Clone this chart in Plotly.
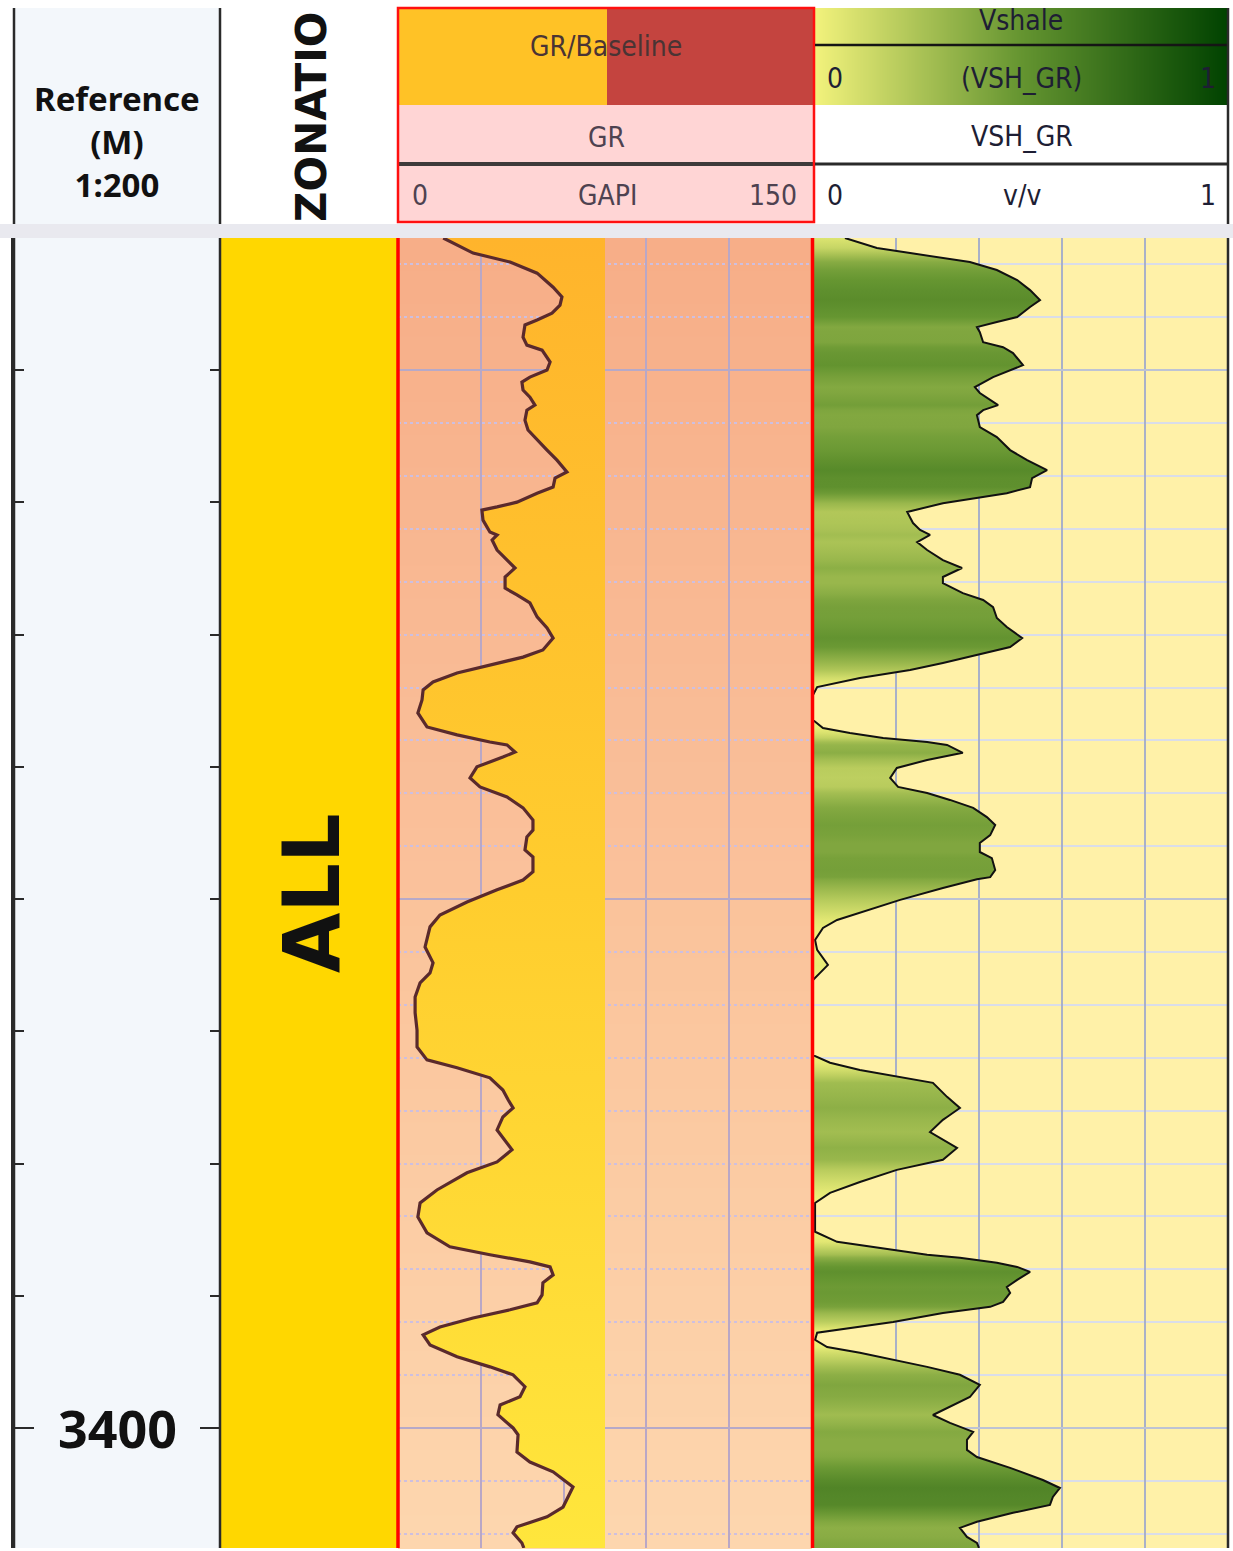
import numpy as np
import plotly.graph_objects as go

W, H = 1233, 1551

# ---------------------------------------------------------------- data
DEPTH_TOP = 3355.0
DEPTH_BASE = 3404.54
DEPTH_MINOR_STEP = 5
DEPTH_MAJOR_STEP = 50
DEPTH_LABELS = [3400]

GR_RANGE = [0, 150]
GR_BASELINE = 75
GR_DEPTH = [
    3355.00, 3355.57, 3355.91, 3356.33, 3356.86, 3357.23, 3357.54, 3357.84, 3358.10, 3358.29,
    3358.75, 3359.05, 3359.24, 3359.69, 3359.99, 3360.26, 3360.45, 3360.75, 3361.02, 3361.32,
    3361.51, 3361.89, 3362.26, 3362.64, 3363.02, 3363.40, 3363.85, 3364.08, 3364.42, 3364.65,
    3364.99, 3365.17, 3365.29, 3365.67, 3366.12, 3366.23, 3366.42, 3366.80, 3367.18, 3367.48,
    3367.82, 3368.24, 3368.50, 3368.80, 3369.33, 3369.75, 3370.13, 3370.58, 3370.85, 3371.15,
    3371.45, 3371.79, 3372.09, 3372.47, 3372.96, 3373.49, 3373.79, 3374.06, 3374.17, 3374.44,
    3374.63, 3375.00, 3375.42, 3375.76, 3376.14, 3376.55, 3377.01, 3377.39, 3377.65, 3378.14,
    3378.41, 3378.97, 3379.28, 3379.65, 3380.11, 3380.60, 3381.05, 3381.81, 3382.41, 3382.79,
    3383.17, 3383.70, 3384.30, 3384.95, 3385.59, 3386.08, 3386.38, 3386.76, 3387.22, 3387.59,
    3387.90, 3388.24, 3388.73, 3389.48, 3389.94, 3390.35, 3391.00, 3391.49, 3392.02, 3392.62,
    3393.15, 3393.45, 3393.72, 3393.91, 3394.21, 3394.51, 3394.97, 3395.27, 3395.53, 3395.84,
    3396.18, 3396.48, 3396.86, 3397.31, 3397.69, 3397.99, 3398.44, 3398.82, 3399.13, 3399.50,
    3400.00, 3400.26, 3400.91, 3401.29, 3401.66, 3402.23, 3402.46, 3402.99, 3403.36, 3403.74,
    3403.97, 3404.35, 3404.54,
]
GR_VALUES = [
    16.4, 27.2, 40.6, 50.4, 56.2, 59.4, 58.7, 55.8, 50.4, 46.0,
    45.3, 46.7, 52.2, 55.1, 54.0, 47.8, 44.9, 45.3, 47.8, 49.6,
    46.7, 46.0, 47.1, 50.4, 54.0, 57.6, 61.2, 56.9, 56.2, 50.4,
    43.1, 35.9, 30.4, 30.8, 33.3, 35.9, 34.1, 35.9, 39.5, 42.4,
    38.8, 38.8, 43.1, 47.8, 50.4, 54.0, 56.2, 52.5, 45.3, 33.3,
    21.4, 12.7, 9.1, 8.7, 7.2, 10.5, 21.4, 33.3, 39.5, 42.4,
    38.0, 28.6, 26.1, 29.7, 39.5, 45.3, 48.9, 48.9, 46.7, 46.0,
    48.9, 48.9, 45.3, 35.9, 25.0, 15.2, 11.6, 9.8, 12.7, 11.6,
    8.0, 6.2, 6.2, 6.9, 6.9, 10.5, 21.4, 33.3, 38.0, 39.9,
    41.7, 38.0, 35.9, 41.3, 35.9, 25.0, 14.1, 8.0, 7.2, 10.5,
    18.8, 33.3, 47.8, 55.1, 56.2, 52.5, 52.2, 50.4, 40.6, 27.2,
    15.2, 9.1, 11.6, 21.4, 33.3, 41.7, 46.0, 44.2, 37.0, 36.2,
    41.7, 43.5, 43.1, 47.8, 56.2, 63.4, 62.3, 59.8, 54.0, 43.1,
    41.7, 44.9, 45.6,
]

VSH_RANGE = [0, 1]
VSH_DEPTH = [
    3355.00, 3355.38, 3355.57, 3355.76, 3355.91, 3356.21, 3356.59, 3356.97, 3357.35, 3357.61,
    3357.99, 3358.18, 3358.37, 3358.56, 3358.94, 3359.13, 3359.35, 3359.81, 3360.00, 3360.26,
    3360.64, 3360.86, 3361.32, 3361.51, 3361.70, 3362.15, 3362.53, 3363.02, 3363.40, 3363.78,
    3364.08, 3364.42, 3364.65, 3364.84, 3365.03, 3365.36, 3365.78, 3366.04, 3366.23, 3366.50,
    3366.80, 3367.18, 3367.48, 3367.82, 3368.05, 3368.43, 3368.69, 3368.96, 3369.37, 3369.71,
    3370.13, 3370.47, 3370.77, 3371.07, 3371.34, 3371.64, 3371.98, 3372.28, 3373.23, 3373.53,
    3373.72, 3373.91, 3374.06, 3374.17, 3374.47, 3374.74, 3375.04, 3375.42, 3375.76, 3375.99,
    3376.25, 3376.55, 3376.90, 3377.20, 3377.58, 3377.88, 3378.22, 3378.45, 3378.90, 3379.17,
    3379.25, 3379.58, 3380.03, 3380.52, 3380.79, 3381.09, 3381.55, 3381.92, 3382.49, 3382.79,
    3383.06, 3385.90, 3386.19, 3386.46, 3386.72, 3386.95, 3387.48, 3387.90, 3388.24, 3388.35,
    3388.81, 3389.11, 3389.41, 3389.86, 3390.24, 3390.70, 3391.11, 3391.49, 3392.58, 3392.96,
    3393.26, 3393.45, 3393.56, 3393.75, 3393.91, 3394.10, 3394.40, 3394.67, 3394.89, 3395.23,
    3395.42, 3395.65, 3395.99, 3396.21, 3396.40, 3396.67, 3396.94, 3397.16, 3397.43, 3397.69,
    3397.99, 3398.37, 3398.83, 3399.21, 3399.51, 3399.81, 3400.15, 3400.45, 3400.83, 3401.10,
    3401.51, 3401.97, 3402.27, 3402.61, 3402.91, 3403.21, 3403.55, 3403.78, 3404.12, 3404.35,
    3404.54,
]
VSH_VALUES = [
    0.077, 0.154, 0.234, 0.313, 0.378, 0.443, 0.492, 0.523, 0.547, 0.523,
    0.492, 0.443, 0.395, 0.402, 0.410, 0.458, 0.482, 0.506, 0.475, 0.434,
    0.390, 0.402, 0.446, 0.410, 0.395, 0.402, 0.443, 0.475, 0.516, 0.564,
    0.528, 0.523, 0.467, 0.395, 0.313, 0.227, 0.241, 0.258, 0.282, 0.251,
    0.275, 0.313, 0.359, 0.313, 0.313, 0.361, 0.410, 0.434, 0.443, 0.467,
    0.504, 0.475, 0.395, 0.313, 0.234, 0.113, 0.010, 0.000, 0.000, 0.024,
    0.089, 0.169, 0.275, 0.323, 0.361, 0.275, 0.202, 0.186, 0.205, 0.275,
    0.330, 0.386, 0.419, 0.439, 0.427, 0.402, 0.402, 0.431, 0.439, 0.427,
    0.395, 0.313, 0.210, 0.113, 0.058, 0.024, 0.005, 0.010, 0.036, 0.017,
    0.000, 0.000, 0.041, 0.113, 0.202, 0.289, 0.323, 0.354, 0.323, 0.313,
    0.282, 0.313, 0.347, 0.313, 0.202, 0.113, 0.041, 0.005, 0.005, 0.058,
    0.193, 0.275, 0.354, 0.443, 0.492, 0.523, 0.492, 0.467, 0.475, 0.458,
    0.427, 0.313, 0.193, 0.089, 0.010, 0.005, 0.034, 0.113, 0.193, 0.275,
    0.354, 0.402, 0.378, 0.330, 0.289, 0.330, 0.386, 0.371, 0.371, 0.395,
    0.475, 0.554, 0.595, 0.578, 0.571, 0.482, 0.395, 0.354, 0.371, 0.395,
    0.400,
]

ZONE_NAMES = ["ALL"]
ZONE_TOPS = [DEPTH_TOP]
ZONE_BASES = [DEPTH_BASE]

# ---------------------------------------------------------------- layout geometry (pixels)
HEAD_TOP, HEAD_BOT = 8, 222
BAND_TOP, BAND_BOT = 224, 238
BODY_TOP, BODY_BOT = 238, 1548
X_DEPTH = (14, 220)
X_ZONE = (220, 398)
X_GR = (398, 812)
X_VSH = (813, 1228)


def px(x):
    return x / W


def py(y):
    return 1 - y / H


# Vshale colour ramp: clean (yellow) -> shaly (dark green)
VSH_RAMP = [(0.0, (242, 242, 124)), (0.5, (100, 148, 48)), (1.0, (0, 66, 0))]


def ramp_color(v, ramp=VSH_RAMP):
    v = min(max(v, 0.0), 1.0)
    for (p0, c0), (p1, c1) in zip(ramp[:-1], ramp[1:]):
        if v <= p1:
            t = (v - p0) / (p1 - p0)
            return "rgb(%d,%d,%d)" % tuple(round(a + (b - a) * t) for a, b in zip(c0, c1))
    return "rgb(%d,%d,%d)" % ramp[-1][1]


def mix(c0, c1, t):
    return "rgb(%d,%d,%d)" % tuple(round(a + (b - a) * t) for a, b in zip(c0, c1))


fig = go.Figure()

# ---------------------------------------------------------------- zonation track
for name, top, base in zip(ZONE_NAMES, ZONE_TOPS, ZONE_BASES):
    fig.add_trace(go.Scatter(
        x=[0, 1, 1, 0, 0], y=[top, top, base, base, top], xaxis="x2", yaxis="y2",
        mode="lines", fill="toself", fillcolor="#FFD700", line=dict(width=0),
        hoverinfo="skip", showlegend=False))

# ---------------------------------------------------------------- GR track: sand fill between curve and baseline
gr_poly_x = list(GR_VALUES) + [GR_BASELINE] * len(GR_VALUES)
gr_poly_y = list(GR_DEPTH) + list(reversed(GR_DEPTH))
fig.add_trace(go.Scatter(
    x=gr_poly_x, y=gr_poly_y, xaxis="x3", yaxis="y3", mode="lines",
    fill="toself", line=dict(width=0),
    fillgradient=dict(type="vertical", start=DEPTH_TOP, stop=DEPTH_BASE,
                      colorscale=[[0, "#FFB42C"], [0.5, "#FFCD2E"], [1, "#FFE63C"]]),
    hoverinfo="skip", showlegend=False))
fig.add_trace(go.Scatter(
    x=GR_VALUES, y=GR_DEPTH, xaxis="x3", yaxis="y3", mode="lines",
    line=dict(color="#5A2A2C", width=3.2), name="GR", showlegend=False))

# ---------------------------------------------------------------- Vshale track: fill coloured by VSH value
span = VSH_DEPTH[-1] - VSH_DEPTH[0]
vsh_scale = [[(d - VSH_DEPTH[0]) / span, ramp_color(v)] for d, v in zip(VSH_DEPTH, VSH_VALUES)]
vsh_scale[-1][0] = 1.0
fig.add_trace(go.Scatter(
    x=VSH_VALUES, y=VSH_DEPTH, xaxis="x4", yaxis="y4", mode="lines",
    line=dict(color="#111111", width=2), fill="tozerox",
    fillgradient=dict(type="vertical", start=VSH_DEPTH[0], stop=VSH_DEPTH[-1],
                      colorscale=vsh_scale),
    name="VSH_GR", showlegend=False))

# ---------------------------------------------------------------- Vshale header colour key
key = np.linspace(0, 1, 41)
fig.add_trace(go.Heatmap(
    x=key, y=[0, 1], z=[key, key], xaxis="x5", yaxis="y5",
    colorscale=[[p, "rgb(%d,%d,%d)" % c] for p, c in VSH_RAMP],
    zmin=0, zmax=1, showscale=False, zsmooth="best", hoverinfo="skip"))

# ---------------------------------------------------------------- shapes
shapes = []


def rect(x0, y0, x1, y1, fill, layer="above", line=None):
    shapes.append(dict(type="rect", xref="paper", yref="paper",
                       x0=px(x0), x1=px(x1), y0=py(y1), y1=py(y0),
                       fillcolor=fill, line=line or dict(width=0), layer=layer))


def vline(x, y0, y1, color, width, layer="above"):
    shapes.append(dict(type="line", xref="paper", yref="paper",
                       x0=px(x), x1=px(x), y0=py(y0), y1=py(y1),
                       line=dict(color=color, width=width), layer=layer))


def hline(y, x0, x1, color, width, layer="above"):
    shapes.append(dict(type="line", xref="paper", yref="paper",
                       x0=px(x0), x1=px(x1), y0=py(y), y1=py(y),
                       line=dict(color=color, width=width), layer=layer))


# body backgrounds (under the grid)
rect(X_DEPTH[0], BODY_TOP, X_DEPTH[1], BODY_BOT, "#F3F7FB", layer="below")
rect(X_VSH[0], BODY_TOP, X_VSH[1], BODY_BOT, "#FFF1A8", layer="below")
n_bands = 40
step = (BODY_BOT - BODY_TOP) / n_bands
for i in range(n_bands):
    t = i / (n_bands - 1)
    rect(X_GR[0], BODY_TOP + i * step, X_GR[1], BODY_TOP + (i + 1) * step + 1,
         mix((247, 174, 136), (253, 214, 174), t), layer="below")

# header: depth
rect(X_DEPTH[0], HEAD_TOP, X_DEPTH[1], BAND_TOP, "#F3F7FB")
# header: GR
rect(398, HEAD_TOP, 607, 105, "#FFC226")
rect(607, HEAD_TOP, 814, 105, "#C4443F")
rect(398, 105, 814, HEAD_BOT, "#FFD5D5")
hline(164, 398, 814, "#3E3A3A", 4)
rect(398, HEAD_TOP, 814, HEAD_BOT, "rgba(0,0,0,0)", line=dict(color="#FF1010", width=2.5))
# header: Vshale
hline(45, X_VSH[0] + 2, X_VSH[1], "#151515", 2.5)
hline(164, X_VSH[0] + 2, X_VSH[1], "#2A2A2A", 3)

# separator band between header and body
rect(0, BAND_TOP, W, BAND_BOT, "#E9E9EF")

# track borders
for y0, y1 in ((HEAD_TOP, BAND_TOP), (BODY_TOP, BODY_BOT)):
    vline(X_DEPTH[0], y0, y1, "#2A2A2A", 2.5)
    vline(X_DEPTH[1], y0, y1, "#2A2A2A", 2.5)
    vline(X_VSH[1], y0, y1, "#2A2A2A", 2.5)
vline(X_GR[0], BODY_TOP, BODY_BOT, "#FF0000", 3.5)
vline(X_GR[1] + 0.5, BODY_TOP, BODY_BOT, "#FF0000", 3.5)

fig.update_layout(shapes=shapes)

# ---------------------------------------------------------------- annotations
ann = []
HEAD_FONT = "Liberation Sans Narrow, DejaVu Sans Condensed, Liberation Sans, sans-serif"


def label(text, x, y, size, color, family, angle=0, xanchor="center", yref="paper"):
    ann.append(dict(text=text, x=px(x), y=(py(y) if yref == "paper" else y),
                    xref="paper", yref=yref, showarrow=False, textangle=angle,
                    xanchor=xanchor, yanchor="middle",
                    font=dict(size=size, color=color, family=family)))


label("<b>Reference</b><br><b>(M)</b><br><b>1:200</b>", 117, 142, 33, "#111111", "Noto Sans")
for d in DEPTH_LABELS:
    label("<b>%d</b>" % d, 117, d, 52, "#111111", "Noto Sans", yref="y")

label("<b>ZONATIO</b>", 311, 117, 42, "#111111", "DejaVu Sans", angle=-90)
for name, top, base in zip(ZONE_NAMES, ZONE_TOPS, ZONE_BASES):
    mid = (max(top, DEPTH_TOP) + min(base, DEPTH_BASE)) / 2
    label("<b>%s</b>" % name, 312, mid, 78, "#111111", "DejaVu Sans", angle=-90, yref="y")

GR_TXT = "#4E4250"
FS = 28
label("GR/Baseline", 606, 46, FS, "#4A3434", HEAD_FONT)
label("GR", 606, 137, FS, GR_TXT, HEAD_FONT)
label(str(GR_RANGE[0]), 420, 195, FS, GR_TXT, HEAD_FONT)
label("GAPI", 607, 195, FS, GR_TXT, HEAD_FONT)
label(str(GR_RANGE[1]), 799, 195, FS, GR_TXT, HEAD_FONT, xanchor="right")

VS_TXT = "#1E1E34"
label("Vshale", 1021, 21, FS, VS_TXT, HEAD_FONT)
label(str(VSH_RANGE[0]), 835, 78, FS, VS_TXT, HEAD_FONT)
label("(VSH_GR)", 1021, 78, FS, VS_TXT, HEAD_FONT)
label(str(VSH_RANGE[1]), 1208, 78, FS, VS_TXT, HEAD_FONT)
label("VSH_GR", 1022, 136, FS, VS_TXT, HEAD_FONT)
label(str(VSH_RANGE[0]), 835, 195, FS, VS_TXT, HEAD_FONT)
label("v/v", 1022, 195, FS, VS_TXT, HEAD_FONT)
label(str(VSH_RANGE[1]), 1208, 195, FS, VS_TXT, HEAD_FONT)

fig.update_layout(annotations=ann)

# ---------------------------------------------------------------- axes
body_dom = [py(BODY_BOT), py(BODY_TOP)]
depth_range = [DEPTH_BASE, DEPTH_TOP]
hidden_x = dict(visible=False, fixedrange=True)

fig.update_layout(
    width=W, height=H, autosize=False,
    margin=dict(l=0, r=0, t=0, b=0, pad=0),
    paper_bgcolor="white", plot_bgcolor="rgba(0,0,0,0)",
    showlegend=False,
    xaxis=dict(domain=[px(X_DEPTH[0]), px(X_DEPTH[1])], range=[0, 1], anchor="y", **hidden_x),
    yaxis=dict(domain=body_dom, range=depth_range, anchor="x",
               showgrid=False, zeroline=False, showticklabels=False,
               showline=True, linecolor="#2A2A2A", linewidth=2.5, mirror="ticks",
               ticks="inside", ticklen=20, tickwidth=2, tickcolor="#2A2A2A",
               tick0=DEPTH_LABELS[0], dtick=DEPTH_MAJOR_STEP,
               minor=dict(ticks="inside", ticklen=10, tickwidth=2, tickcolor="#2A2A2A",
                          tick0=DEPTH_LABELS[0], dtick=DEPTH_MINOR_STEP, showgrid=False)),
    xaxis2=dict(domain=[px(X_ZONE[0]), px(X_ZONE[1])], range=[0, 1], anchor="y2", **hidden_x),
    yaxis2=dict(domain=body_dom, range=depth_range, anchor="x2", visible=False),
    xaxis3=dict(domain=[px(X_GR[0]), px(X_GR[1])], range=GR_RANGE, anchor="y3",
                showgrid=True, gridcolor="#B9A7C6", gridwidth=1.6, tick0=0, dtick=30,
                showticklabels=False, zeroline=False, ticks=""),
    yaxis3=dict(domain=body_dom, range=depth_range, anchor="x3",
                showgrid=True, gridcolor="#B6A9C8", gridwidth=2, tick0=3400, dtick=20,
                minor=dict(showgrid=True, gridcolor="#CDBFE0", gridwidth=2, griddash="dot",
                           tick0=3400, dtick=2),
                showticklabels=False, zeroline=False, ticks=""),
    xaxis4=dict(domain=[px(X_VSH[0]), px(X_VSH[1])], range=VSH_RANGE, anchor="y4",
                showgrid=True, gridcolor="#A9B1C8", gridwidth=2, tick0=0, dtick=0.2,
                showticklabels=False, zeroline=False, ticks=""),
    yaxis4=dict(domain=body_dom, range=depth_range, anchor="x4",
                showgrid=True, gridcolor="#BDC3D4", gridwidth=2, tick0=3400, dtick=20,
                minor=dict(showgrid=True, gridcolor="#DADDE9", gridwidth=2,
                           tick0=3400, dtick=2),
                showticklabels=False, zeroline=False, ticks=""),
    xaxis5=dict(domain=[px(X_VSH[0] + 2), px(X_VSH[1])], range=[0, 1], anchor="y5", **hidden_x),
    yaxis5=dict(domain=[py(105), py(HEAD_TOP)], range=[0, 1], anchor="x5", visible=False),
)

fig.write_html("out.html")
